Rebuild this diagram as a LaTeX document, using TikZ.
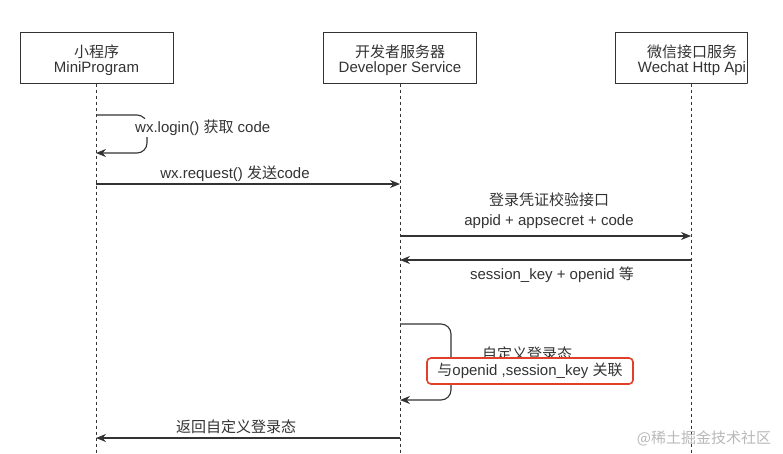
\documentclass[tikz,border=0pt]{standalone}
\usepackage{fontspec}
\setmainfont{Liberation Sans}
\newfontfamily\cjk{Noto Sans CJK SC}
\usetikzlibrary{arrows.meta}
\definecolor{ink}{HTML}{333333}
\definecolor{hl}{HTML}{E0402A}
\begin{document}
\begin{tikzpicture}[x=1pt,y=-1pt, font=\fontsize{15}{15}\selectfont, text=ink,
  actor/.style={draw=ink, line width=1pt, minimum width=153pt, minimum height=51pt, inner sep=0pt, fill=white},
  actortext/.style={inner sep=0pt, align=center, font=\fontsize{15}{15}\selectfont},
  life/.style={draw=ink, line width=0.9pt, dash pattern=on 3pt off 3pt},
  msg/.style={draw=ink, line width=1.1pt, -{Stealth[length=10pt,width=8pt]}},
  lbl/.style={fill=white, inner sep=1pt, align=center},
  plain/.style={inner sep=1pt, align=center}]
\useasboundingbox (0,0) rectangle (783,453);
\fill[white] (0,0) rectangle (783,453);
% lifeline coordinates
\coordinate (mpEnd) at (96,453);
\coordinate (dsEnd) at (400,453);
\coordinate (wxEnd) at (691,453);
% actors
\node[actor] (mp) at (96.5,57.5) {};
\node[actortext] (mpT) at (96.5,60) {{\cjk 小程序}\\MiniProgram};
\node[actor] (ds) at (400,57.5) {};
\node[actortext] (dsT) at (400,60) {{\cjk 开发者服务器}\\Developer Service};
\begin{scope}
  \clip (0,0) rectangle (747.5,453);
  \node[actor] (wx) at (692,57.5) {};
  \node[actortext] (wxT) at (692,60) {{\cjk 微信接口服务}\\Wechat Http Api};
\end{scope}
\coordinate (wxClipT) at (747,32);
\coordinate (wxClipB) at (747,83);
\draw[ink, line width=1pt] (wxClipT) -- (wxClipB);
% lifelines
\draw[life] (mp.south -| mpEnd) -- (mpEnd);
\draw[life] (ds.south -| dsEnd) -- (dsEnd);
\draw[life] (wx.south -| wxEnd) -- (wxEnd);
% message anchor points
\coordinate (l1a) at (96,115);
\coordinate (l1b) at (96,153);
\coordinate (m2a) at (96,184);
\coordinate (m2b) at (400,184);
\coordinate (m3a) at (400,236);
\coordinate (m3b) at (691,236);
\coordinate (m4a) at (691,260);
\coordinate (m4b) at (400,260);
\coordinate (l2a) at (400,324);
\coordinate (l2b) at (400,400);
\coordinate (m5a) at (400,438);
\coordinate (m5b) at (96,438);
% self call 1
\draw[msg, rounded corners=10pt] (l1a) -- (147,115) -- (147,153) -- (l1b);
\node[lbl, anchor=west] (t1) at (134,128) {wx.login() {\cjk 获取} code};
% request
\draw[msg] (m2a) -- (m2b);
\node[plain] (t2) at (235,174) {wx.request() {\cjk 发送}code};
% code2session
\draw[msg] (m3a) -- (m3b);
\node[plain, font=\fontsize{15}{20}\selectfont] (t3) at (549,211) {{\cjk 登录凭证校验接口}\\appid + appsecret + code};
\draw[msg] (m4a) -- (m4b);
\node[plain] (t4) at (552,275) {session\_key + openid {\cjk 等}};
% self call 2
\draw[msg, rounded corners=10pt] (l2a) -- (451,324) -- (451,400) -- (l2b);
\node[lbl] (t5) at (527,354) {\cjk 自定义登录态};
\node[draw=hl, line width=1.6pt, rounded corners=4pt, fill=white, minimum width=206pt, minimum height=26pt, inner sep=0pt] (t6) at (530,371) {{\cjk 与}openid ,session\_key {\cjk 关联}\hspace{8pt}};
% return
\draw[msg] (m5a) -- (m5b);
\node[plain] (t7) at (236,427) {\cjk 返回自定义登录态};
% watermark
\node[text=gray!55, font=\fontsize{15}{16}\selectfont, inner sep=0pt] (wm) at (704,438) {\cjk @稀土掘金技术社区};
\end{tikzpicture}
\end{document}
